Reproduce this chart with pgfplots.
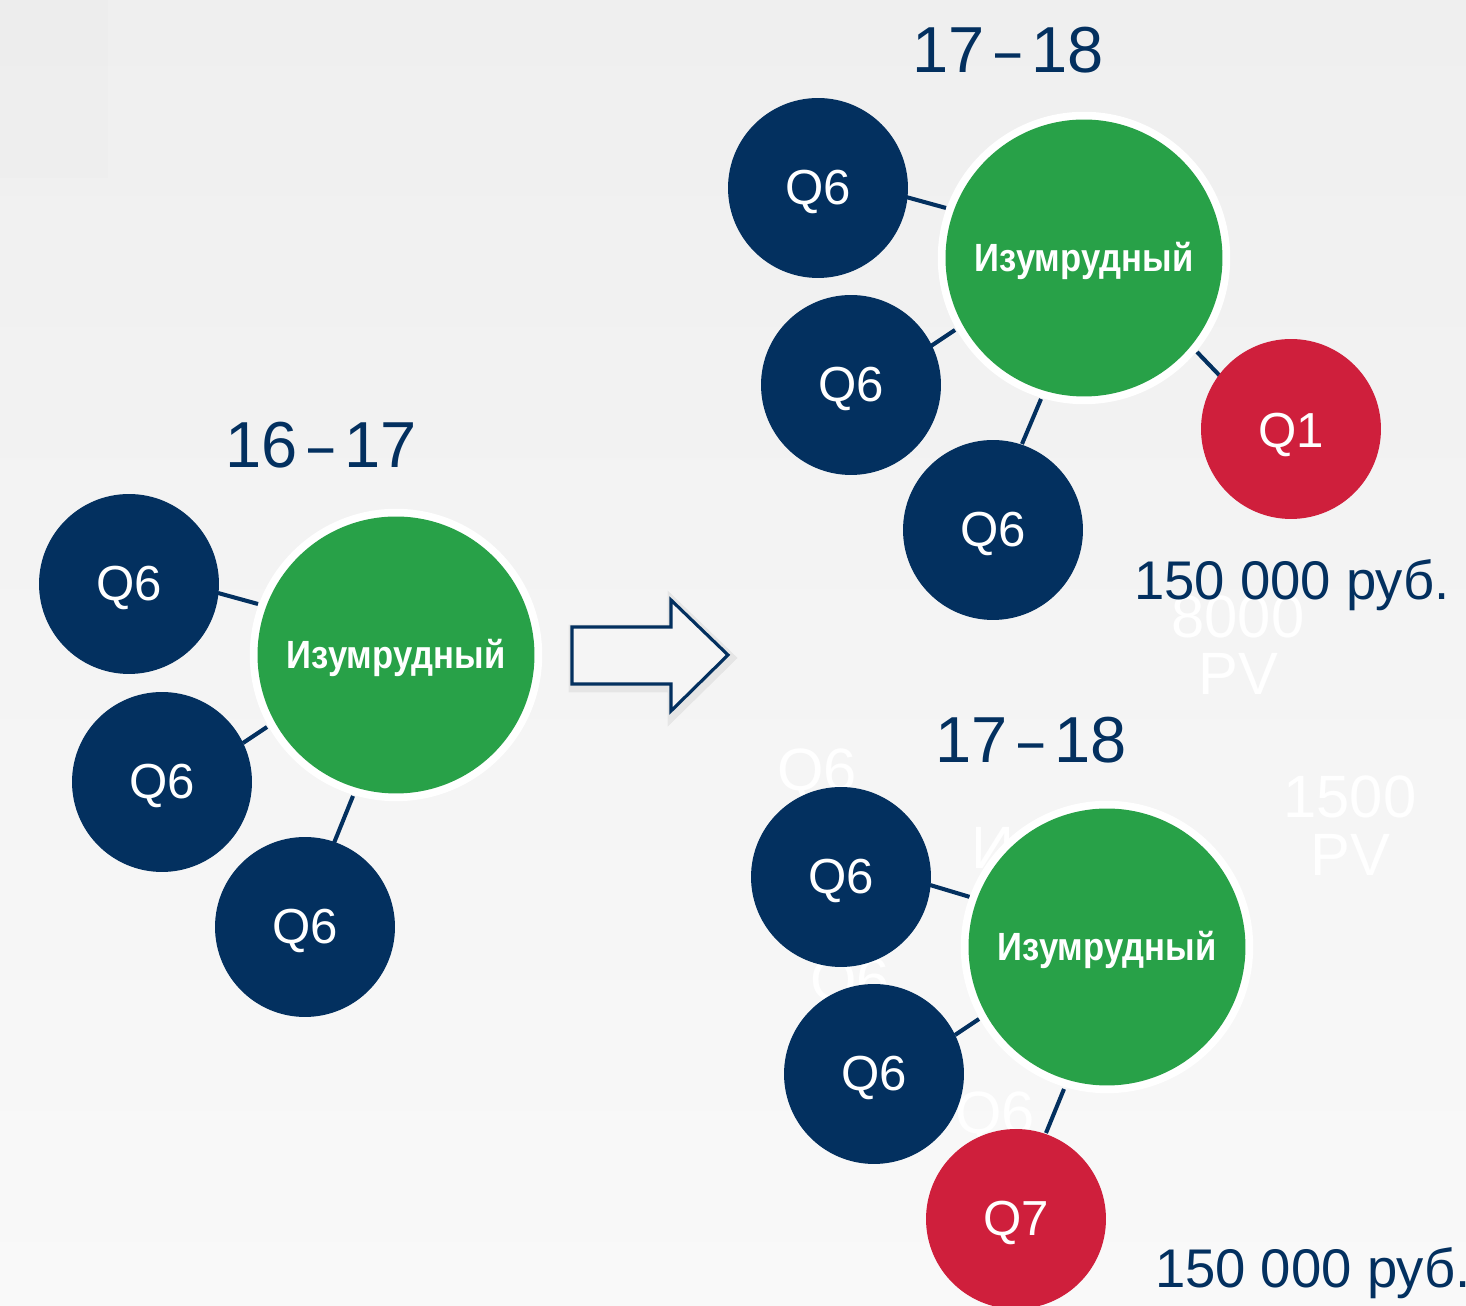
\documentclass[border=0pt]{standalone}
\usepackage{pgfplots}
\pgfplotsset{compat=1.18}
\usepackage{fontspec}
\setmainfont{Liberation Sans}
\newfontfamily\narrowbold[FakeStretch=0.88]{Liberation Sans Bold}
\definecolor{navy}{RGB}{3,48,95}
\definecolor{emer}{RGB}{40,161,72}
\definecolor{rubin}{RGB}{207,31,60}
\definecolor{bgtop}{RGB}{239,239,239}
\definecolor{bgbot}{RGB}{249,249,249}
\tikzset{
  ql/.style={white, font=\fontsize{14}{14}\selectfont},
  gl/.style={white, font=\narrowbold\fontsize{11.2}{11.2}\selectfont},
  ghost/.style={white, font=\fontsize{17}{17}\selectfont},
  ttl/.style={navy, font=\fontsize{18.5}{18.5}\selectfont},
}
\newcommand{\dsh}{\,\scalebox{0.7}[1]{–}\,}
\pgfplotsset{conn/.style={navy, line width=1.15pt, forget plot}}
\begin{document}
\begin{tikzpicture}
\begin{axis}[
  scale only axis, width=14.66cm, height=13.06cm,
  xmin=0, xmax=1466, ymin=0, ymax=1306, y dir=reverse,
  hide axis, clip=true, clip marker paths=true,
]
% background
\addplot[draw=none, top color=bgtop, bottom color=bgbot] coordinates {(0,0) (1466,0) (1466,1306) (0,1306)} -- cycle;
\addplot[draw=none, fill=black, fill opacity=0.006] coordinates {(0,0) (108,0) (108,178) (0,178)} -- cycle;

% ghost white texts
\node[ghost] at (axis cs:1238,617) {8000};
\node[ghost] at (axis cs:1238,674) {PV};
\node[ghost] at (axis cs:1350,797) {1500};
\node[ghost] at (axis cs:1350,855) {PV};
\node[ghost] at (axis cs:817,775) {Q6};
\node[ghost] at (axis cs:993,848) {И};
\node[ghost] at (axis cs:850,985) {Q6};
\node[ghost] at (axis cs:995,1118) {Q6};

% connectors
\addplot[conn] coordinates {(218,593) (258,604)};
\addplot[conn] coordinates {(243,743) (267,727)};
\addplot[conn] coordinates {(334,843) (353,796)};
\addplot[conn] coordinates {(906,197) (946,208)};
\addplot[conn] coordinates {(931,346) (955,330)};
\addplot[conn] coordinates {(1022,444) (1041,399)};
\addplot[conn] coordinates {(1197,352) (1220,376)};
\addplot[conn] coordinates {(930,885) (970,897)};
\addplot[conn] coordinates {(955,1035) (979,1019)};
\addplot[conn] coordinates {(1046,1133) (1064,1089)};

% arrow
\addplot[draw=black, opacity=0.06, line width=3pt] coordinates {(574,630) (673,630) (673,603) (730,658) (673,714) (673,687) (574,687)} -- cycle;
\addplot[draw=navy, line width=0.9pt, fill=white!96!black] coordinates {(572,627) (671,627) (671,600) (728,655) (671,711) (671,684) (572,684)} -- cycle;

% green circles (white ring)
\addplot[white, only marks, mark=*, mark size=41.4pt] coordinates {(396,655) (1084,258) (1107,947)};
\addplot[emer, only marks, mark=*, mark size=39.2pt] coordinates {(396,655) (1084,258) (1107,947)};
% navy circles
\addplot[navy, only marks, mark=*, mark size=25.4pt] coordinates {(129,584) (162,782) (305,927) (818,188) (851,385) (993,530) (841,877) (874,1074)};
% red circles
\addplot[rubin, only marks, mark=*, mark size=25.4pt] coordinates {(1291,429) (1016,1219)};

% titles
\node[ttl] at (axis cs:321,445) {16\dsh17};
\node[ttl] at (axis cs:1008,50) {17\dsh18};
\node[ttl] at (axis cs:1031,740) {17\dsh18};

% circle labels
\node[ql] at (axis cs:129,588) {Q6};
\node[ql] at (axis cs:162,786) {Q6};
\node[ql] at (axis cs:305,931) {Q6};
\node[ql] at (axis cs:818,192) {Q6};
\node[ql] at (axis cs:851,389) {Q6};
\node[ql] at (axis cs:993,534) {Q6};
\node[ql] at (axis cs:841,881) {Q6};
\node[ql] at (axis cs:874,1078) {Q6};
\node[ql] at (axis cs:1291,435) {Q1};
\node[ql] at (axis cs:1016,1223) {Q7};

\node[gl] at (axis cs:396,658) {Изумрудный};
\node[gl] at (axis cs:1084,261) {Изумрудный};
\node[gl] at (axis cs:1107,950) {Изумрудный};

% amounts
\node[navy, font=\fontsize{15.5}{15.5}\selectfont] at (axis cs:1292,585) {150 000 руб.};
\node[navy, font=\fontsize{15.5}{15.5}\selectfont] at (axis cs:1313,1273) {150 000 руб.};
\end{axis}
\end{tikzpicture}
\end{document}
